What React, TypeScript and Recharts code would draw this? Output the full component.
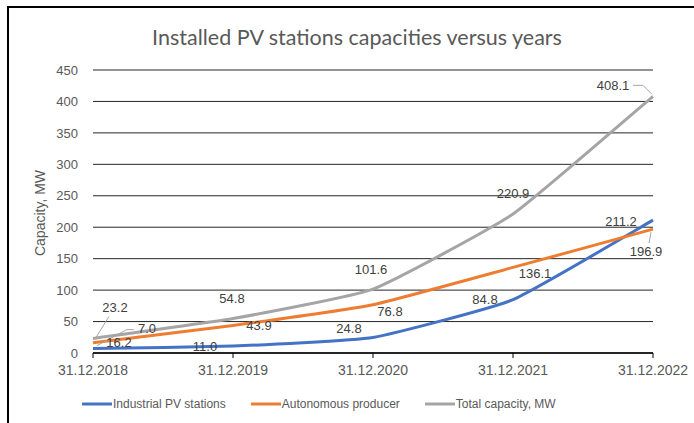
import { LineChart, Line, XAxis, YAxis, CartesianGrid, LabelList } from 'recharts';

const years = ['31.12.2018', '31.12.2019', '31.12.2020', '31.12.2021', '31.12.2022'];
const industrial = [7.0, 11.0, 24.8, 84.8, 211.2];
const autonomous = [16.2, 43.9, 76.8, 136.1, 196.9];
const total = [23.2, 54.8, 101.6, 220.9, 408.1];
const yTicks = [0, 50, 100, 150, 200, 250, 300, 350, 400, 450];

const seriesInfo = [
  { key: 'industrial', name: 'Industrial PV stations', color: '#4472C4' },
  { key: 'autonomous', name: 'Autonomous producer', color: '#ED7D31' },
  { key: 'total', name: 'Total capacity, MW', color: '#A5A5A5' },
];

const data = years.map((year, i) => ({
  year,
  industrial: industrial[i],
  autonomous: autonomous[i],
  total: total[i],
}));

// Excel "smoothed line" here only rounds the corners a little, so a tight cardinal curve
const SMOOTH = 0.07;
const softCurve = (context: any) => {
  let pts: [number, number][] = [];
  return {
    areaStart() {},
    areaEnd() {},
    lineStart() {
      pts = [];
    },
    point(x: number, y: number) {
      pts.push([+x, +y]);
    },
    lineEnd() {
      if (!pts.length) return;
      context.moveTo(pts[0][0], pts[0][1]);
      for (let i = 0; i < pts.length - 1; i++) {
        const p0 = pts[Math.max(i - 1, 0)];
        const p1 = pts[i];
        const p2 = pts[i + 1];
        const p3 = pts[Math.min(i + 2, pts.length - 1)];
        context.bezierCurveTo(
          p1[0] + (p2[0] - p0[0]) * SMOOTH,
          p1[1] + (p2[1] - p0[1]) * SMOOTH,
          p2[0] - (p3[0] - p1[0]) * SMOOTH,
          p2[1] - (p3[1] - p1[1]) * SMOOTH,
          p2[0],
          p2[1],
        );
      }
    },
  };
};

// where each data label sits relative to its point (Excel placed them by hand)
type LabelSpot = { dx: number; dy: number; leader?: 'left' | 'right' | 'top' | 'bottom' };

const industrialSpots: LabelSpot[] = [
  { dx: 54, dy: -20, leader: 'left' },
  { dx: -28, dy: 0 },
  { dx: -24, dy: -9 },
  { dx: -28, dy: 0 },
  { dx: -32, dy: 1 },
];
const autonomousSpots: LabelSpot[] = [
  { dx: 26, dy: 0 },
  { dx: 26, dy: 0 },
  { dx: 17, dy: 7 },
  { dx: 22, dy: 6 },
  { dx: -7, dy: 22, leader: 'top' },
];
const totalSpots: LabelSpot[] = [
  { dx: 22, dy: -31, leader: 'bottom' },
  { dx: -1, dy: -20 },
  { dx: -2, dy: -20 },
  { dx: 0, dy: -21 },
  { dx: -40, dy: -11, leader: 'right' },
];

const fontFamily = "'Liberation Sans', Arial, sans-serif";

const makeLabel = (spots: LabelSpot[]) => (props: any) => {
  const { x, y, value, index } = props;
  const spot = spots[index];
  if (!spot || x == null || y == null) return null;
  const px = Number(x);
  const py = Number(y);
  const lx = px + spot.dx;
  const ly = py + spot.dy;
  const text = Number(value).toFixed(1);
  const half = text.length * 3.4;
  let points = '';
  if (spot.leader === 'right') {
    points = `${lx + half + 3},${ly} ${lx + half + 13},${ly} ${px - 1},${py - 2}`;
  } else if (spot.leader === 'left') {
    points = `${lx - half - 3},${ly + 1} ${lx - half - 10},${ly + 1} ${px + 4},${py - 3}`;
  } else if (spot.leader === 'top') {
    points = `${lx + 3},${ly - 8} ${px - 2},${py + 3}`;
  } else if (spot.leader === 'bottom') {
    points = `${lx - 6},${ly + 9} ${px + 3},${py - 1}`;
  }
  return (
    <g>
      {spot.leader && <polyline points={points} fill="none" stroke="#A6A6A6" strokeWidth={1} />}
      <text
        x={lx}
        y={ly}
        textAnchor="middle"
        dominantBaseline="central"
        fontSize={13}
        fontFamily={fontFamily}
        fill="#404040"
      >
        {text}
      </text>
    </g>
  );
};

export default function App() {
  return (
    <div style={{ position: 'absolute', left: 0, top: 0, width: 694, height: 423, background: '#fff', overflow: 'hidden' }}>
      <div
        style={{
          position: 'absolute',
          left: 7,
          top: 6,
          width: 720,
          height: 440,
          borderTop: '2px solid #000',
          borderLeft: '2px solid #000',
        }}
      />
      <div
        style={{
          position: 'absolute',
          left: 357,
          top: 37,
          transform: 'translate(-50%, -50%)',
          whiteSpace: 'nowrap',
          fontFamily: 'Lato, sans-serif',
          fontSize: 21.5,
          color: '#595959',
        }}
      >
        Installed PV stations capacities versus years
      </div>
      <div
        style={{
          position: 'absolute',
          left: 40,
          top: 213,
          transform: 'translate(-50%, -50%) rotate(-90deg)',
          whiteSpace: 'nowrap',
          fontFamily,
          fontSize: 14,
          color: '#595959',
        }}
      >
        Capacity, MW
      </div>
      <div style={{ position: 'absolute', left: 0, top: 0 }}>
        <LineChart width={694} height={423} data={data} margin={{ top: 70, right: 41, bottom: 40, left: 0 }}>
          <CartesianGrid vertical={false} stroke="#262626" strokeWidth={1} />
          <XAxis
            dataKey="year"
            height={30}
            interval={0}
            tickSize={5}
            tickMargin={7}
            axisLine={{ stroke: '#000', strokeWidth: 1.5 }}
            tickLine={{ stroke: '#000' }}
            tick={{ fontSize: 14, fill: '#595959', fontFamily }}
          />
          <YAxis
            width={93}
            domain={[0, 450]}
            ticks={yTicks}
            axisLine={false}
            tickLine={false}
            tickSize={0}
            tickMargin={15}
            tick={{ fontSize: 13, fill: '#595959', fontFamily }}
          />
          <Line
            type={softCurve as any}
            dataKey="industrial"
            name={seriesInfo[0].name}
            stroke={seriesInfo[0].color}
            strokeWidth={3}
            dot={false}
            isAnimationActive={false}
          >
            <LabelList dataKey="industrial" content={makeLabel(industrialSpots)} />
          </Line>
          <Line
            type={softCurve as any}
            dataKey="autonomous"
            name={seriesInfo[1].name}
            stroke={seriesInfo[1].color}
            strokeWidth={3}
            dot={false}
            isAnimationActive={false}
          >
            <LabelList dataKey="autonomous" content={makeLabel(autonomousSpots)} />
          </Line>
          <Line
            type={softCurve as any}
            dataKey="total"
            name={seriesInfo[2].name}
            stroke={seriesInfo[2].color}
            strokeWidth={3}
            dot={false}
            isAnimationActive={false}
          >
            <LabelList dataKey="total" content={makeLabel(totalSpots)} />
          </Line>
        </LineChart>
      </div>
      <div
        style={{
          position: 'absolute',
          left: 82,
          top: 396,
          display: 'flex',
          alignItems: 'center',
          fontFamily,
          fontSize: 12,
          color: '#595959',
          whiteSpace: 'nowrap',
        }}
      >
        {seriesInfo.map((s) => (
          <div key={s.key} style={{ display: 'flex', alignItems: 'center', marginRight: 25 }}>
            <svg width={31} height={16}>
              <line x1={0} y1={8} x2={30} y2={8} stroke={s.color} strokeWidth={3} />
            </svg>
            <span>{s.name}</span>
          </div>
        ))}
      </div>
    </div>
  );
}
